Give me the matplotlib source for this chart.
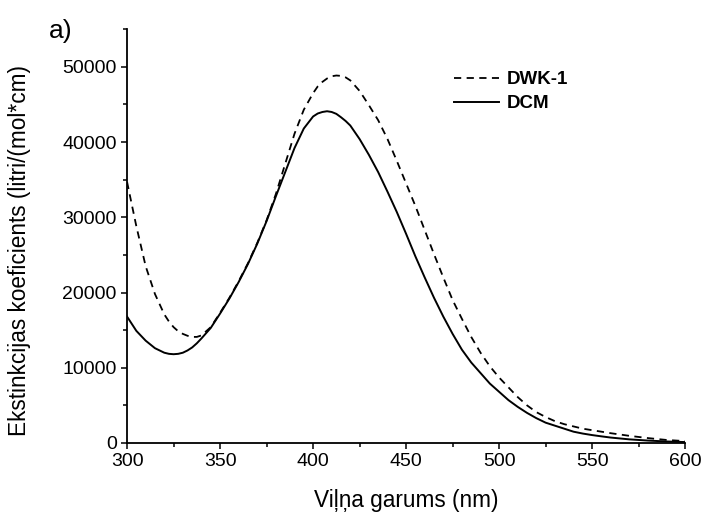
import numpy as np
import matplotlib.pyplot as plt
from matplotlib.ticker import MultipleLocator

plt.rcParams['font.family'] = ['Liberation Sans', 'DejaVu Sans']

# wavelength (nm) and extinction coefficient
wl = [300, 305, 310, 315, 320, 322.5, 325, 327.5, 330, 332.5, 335, 337.5, 340,
      345, 350, 355, 360, 365, 370, 375, 380, 385, 390, 395, 400, 402.5, 405,
      407.5, 410, 412.5, 415, 417.5, 420, 425, 430, 435, 440, 445, 450, 455,
      460, 465, 470, 475, 480, 485, 490, 495, 500, 505, 510, 515, 520, 525,
      530, 535, 540, 545, 550, 555, 560, 570, 580, 590, 600]

dcm = [16800, 14900, 13600, 12600, 12000, 11850, 11800, 11850, 12000, 12300,
       12700, 13250, 13900, 15300, 17200, 19200, 21400, 23800, 26500, 29500,
       32800, 36000, 39200, 41800, 43400, 43800, 44000, 44100, 44000, 43750,
       43300, 42800, 42200, 40400, 38300, 36000, 33400, 30700, 27800, 24800,
       22000, 19300, 16800, 14500, 12400, 10700, 9300, 7900, 6800, 5700, 4800,
       4000, 3300, 2700, 2300, 1900, 1500, 1250, 1050, 880, 720, 480, 320, 200,
       120]

dwk1 = [34700, 28800, 23500, 19800, 17100, 16150, 15400, 14850, 14500, 14250,
        14100, 14100, 14300, 15400, 17300, 19300, 21500, 23900, 26600, 29600,
        33100, 37100, 41100, 44300, 46500, 47400, 48000, 48450, 48750, 48850,
        48800, 48600, 48200, 46800, 44900, 42900, 40400, 37500, 34500, 31500,
        28300, 25100, 22000, 19000, 16500, 14100, 12000, 10200, 8700, 7400,
        6100, 5000, 4100, 3450, 2900, 2500, 2200, 1900, 1700, 1500, 1300, 950,
        650, 400, 250]

fig = plt.figure(figsize=(7.02, 5.13), dpi=100)
ax = fig.add_axes([0.181, 0.1365, 0.795, 0.8065])

ax.plot(wl, dwk1, color='black', lw=1.3, ls='--', dashes=(4, 3), label='DWK-1')
ax.plot(wl, dcm, color='black', lw=1.4, label='DCM')

ax.set_xlim(300, 600)
ax.set_ylim(0, 55000)
ax.xaxis.set_major_locator(MultipleLocator(50))
ax.xaxis.set_minor_locator(MultipleLocator(25))
ax.yaxis.set_major_locator(MultipleLocator(10000))
ax.yaxis.set_minor_locator(MultipleLocator(5000))

for s in ['top', 'right']:
    ax.spines[s].set_visible(False)
for s in ['left', 'bottom']:
    ax.spines[s].set_linewidth(1.3)

ax.tick_params(which='major', direction='out', length=4.5, width=1.1,
               labelsize=14, pad=3)
ax.tick_params(which='minor', direction='out', length=2.8, width=1.1)

ax.set_xlabel('Viļņa garums (nm)', fontsize=16.3)
ax.set_ylabel('Ekstinkcijas koeficients (litri/(mol*cm)', fontsize=16.3)
ax.xaxis.set_label_coords(0.5, -0.111)
ax.yaxis.set_label_coords(-0.172, 0.466)

ax.legend(loc='upper left', bbox_to_anchor=(0.556, 0.94), frameon=False,
          handlelength=2.4, handletextpad=0.4, labelspacing=0.38,
          prop={'weight': 'bold', 'size': 13.5})

fig.text(0.07, 0.925, 'a)', fontsize=19)

fig.savefig('out.png', dpi=100)
